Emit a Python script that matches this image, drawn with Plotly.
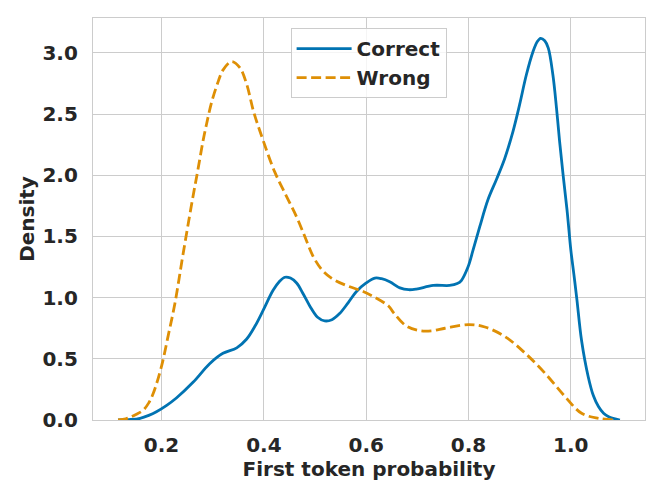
import plotly.graph_objects as go

# KDE curves
correct_x = [0.115, 0.140, 0.158, 0.175, 0.190, 0.210, 0.229, 0.262, 0.294, 0.320,
             0.347, 0.366, 0.383, 0.399, 0.418, 0.430, 0.441, 0.452, 0.464, 0.477,
             0.490, 0.505, 0.519, 0.533, 0.548, 0.565, 0.581, 0.600, 0.617, 0.630,
             0.646, 0.666, 0.683, 0.698, 0.731, 0.763, 0.778, 0.786, 0.799, 0.809,
             0.822, 0.838, 0.855, 0.871, 0.887, 0.900, 0.913, 0.926, 0.934, 0.941,
             0.949, 0.956, 0.965, 0.972, 0.978, 0.985, 0.993, 1.000, 1.006, 1.012,
             1.021, 1.034, 1.044, 1.054, 1.064, 1.074, 1.096]
correct_y = [0.0, 0.004, 0.014, 0.038, 0.068, 0.12, 0.18, 0.31, 0.46, 0.545,
             0.59, 0.66, 0.77, 0.90, 1.06, 1.13, 1.167, 1.16, 1.12, 1.03,
             0.93, 0.84, 0.81, 0.82, 0.87, 0.96, 1.05, 1.12, 1.16, 1.155,
             1.13, 1.08, 1.065, 1.07, 1.10, 1.10, 1.115, 1.14, 1.25, 1.39,
             1.58, 1.80, 1.97, 2.14, 2.36, 2.58, 2.82, 3.01, 3.09, 3.12,
             3.10, 3.04, 2.82, 2.55, 2.28, 2.00, 1.70, 1.39, 1.19, 0.98,
             0.65, 0.354, 0.20, 0.11, 0.055, 0.027, 0.0]

wrong_x = [0.115, 0.130, 0.138, 0.150, 0.164, 0.175, 0.184, 0.200, 0.213, 0.226,
           0.241, 0.252, 0.262, 0.270, 0.281, 0.288, 0.298, 0.311, 0.320, 0.337,
           0.353, 0.366, 0.380, 0.399, 0.421, 0.444, 0.464, 0.480, 0.496, 0.513,
           0.532, 0.561, 0.594, 0.618, 0.644, 0.653, 0.678, 0.705, 0.730, 0.754,
           0.800, 0.832, 0.872, 0.911, 0.950, 0.989, 1.021, 1.054, 1.086]
wrong_y = [0.0, 0.01, 0.022, 0.045, 0.08, 0.14, 0.22, 0.44, 0.69, 0.95,
           1.33, 1.60, 1.84, 2.02, 2.28, 2.42, 2.60, 2.77, 2.86, 2.93,
           2.88, 2.75, 2.52, 2.28, 2.03, 1.83, 1.66, 1.50, 1.34, 1.23,
           1.16, 1.10, 1.05, 1.00, 0.93, 0.88, 0.77, 0.73, 0.73, 0.75,
           0.78, 0.76, 0.68, 0.545, 0.38, 0.19, 0.055, 0.014, 0.0]

x_ticks = [0.2, 0.4, 0.6, 0.8, 1.0]
y_ticks = [0.0, 0.5, 1.0, 1.5, 2.0, 2.5, 3.0]

TEXT = "#262626"
GRID = "#cccccc"
FONT = dict(family="DejaVu Sans", size=20, color=TEXT, weight="bold")

fig = go.Figure()

fig.add_trace(go.Scatter(
    x=correct_x, y=correct_y, name="Correct", mode="lines",
    line=dict(color="#0173b2", width=2.8, shape="spline", smoothing=1.0),
))
fig.add_trace(go.Scatter(
    x=wrong_x, y=wrong_y, name="Wrong", mode="lines",
    line=dict(color="#de8f05", width=2.8, shape="spline", smoothing=1.0,
              dash="10px,4.5px"),
))

# page body has an 8px margin, so the figure is drawn 8px smaller
fig.update_layout(
    width=656, height=490,
    margin=dict(l=85, r=19, t=10, b=78),
    paper_bgcolor="white", plot_bgcolor="white",
    font=FONT,
    legend=dict(
        x=0.358, y=0.975, xanchor="left", yanchor="top",
        bgcolor="rgba(255,255,255,0.8)", bordercolor=GRID, borderwidth=1,
        font=FONT, itemwidth=55,
    ),
)

fig.update_xaxes(
    range=[0.066, 1.145], tickvals=x_ticks, ticktext=[f"{v:.1f}" for v in x_ticks],
    showgrid=True, gridcolor=GRID, gridwidth=1.2, zeroline=False,
    showline=True, linecolor=GRID, linewidth=1.2, mirror=True,
    ticks="", ticklabelstandoff=7,
    title=dict(text="First token probability", font=FONT, standoff=2),
)
fig.update_yaxes(
    range=[0, 3.286], tickvals=y_ticks, ticktext=[f"{v:.1f}" for v in y_ticks],
    showgrid=True, gridcolor=GRID, gridwidth=1.2, zeroline=False,
    showline=True, linecolor=GRID, linewidth=1.2, mirror=True,
    ticks="", ticklabelstandoff=10,
    title=dict(text="Density", font=FONT, standoff=2),
)

fig.write_html("out.html")
